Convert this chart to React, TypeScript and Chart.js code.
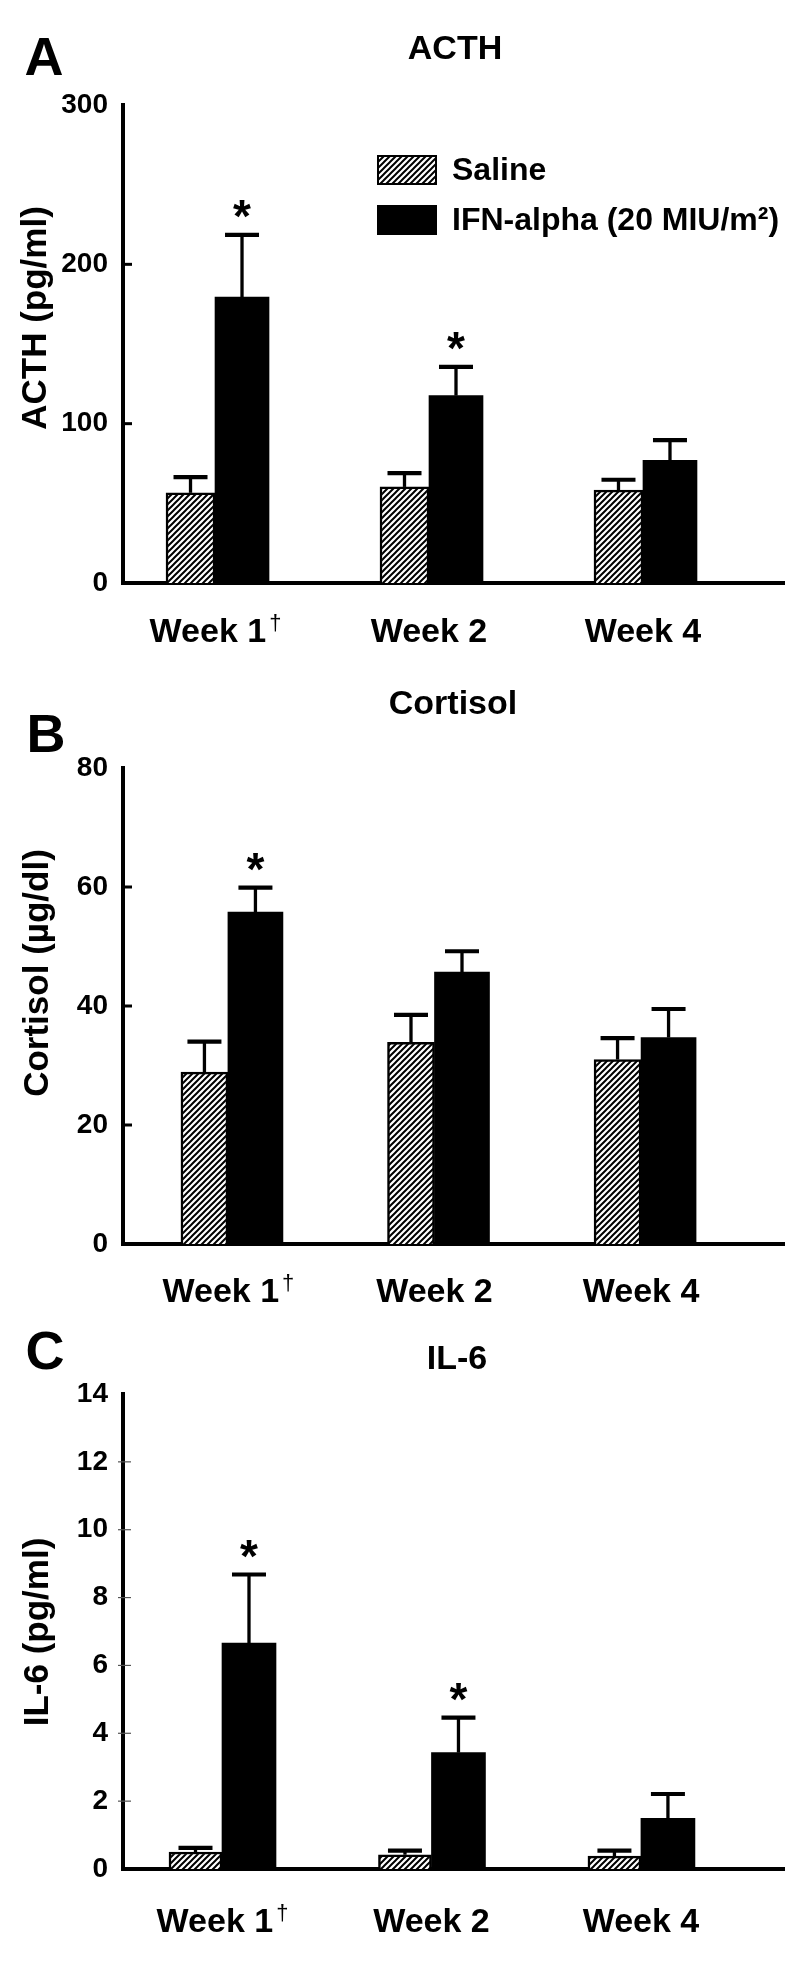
import { useEffect, useRef } from 'react';
import { Chart, registerables } from 'chart.js';

Chart.register(...registerables);

const weeks = ['Week 1', 'Week 2', 'Week 4'];
const weekMarks = ['†', '', ''];
const weekPos = [0, 1, 2];
const seriesNames = ['Saline', 'IFN-alpha (20 MIU/m²)'];

const acthSaline = [56.6, 60.3, 58.3];
const acthSalineErr = [9.9, 8.7, 6.5];
const acthIfn = [179.4, 117.6, 77.0];
const acthIfnErr = [39.1, 18.0, 12.7];
const acthSig = [true, true, false];
const acthTicks = [0, 100, 200, 300];

const cortSaline = [28.9, 33.9, 31.0];
const cortSalineErr = [5.1, 4.6, 3.6];
const cortIfn = [55.8, 45.7, 34.7];
const cortIfnErr = [4.1, 3.5, 4.8];
const cortSig = [true, false, false];
const cortTicks = [0, 20, 40, 60, 80];

const il6Saline = [0.5, 0.42, 0.38];
const il6SalineErr = [0.12, 0.12, 0.16];
const il6Ifn = [6.66, 3.43, 1.49];
const il6IfnErr = [2.02, 1.03, 0.72];
const il6Sig = [true, true, false];
const il6Ticks = [0, 2, 4, 6, 8, 10, 12, 14];

const FONT = "'Liberation Sans', Arial, Helvetica, sans-serif";

type Panel = {
  key: string;
  top: number;
  height: number;
  areaTop: number;
  areaBottom: number;
  xMin: number;
  xMax: number;
  salineWidth: number;
  ifnWidth: number;
  ticks: number[];
  saline: number[];
  salineErr: number[];
  ifn: number[];
  ifnErr: number[];
  sig: boolean[];
  letter: string;
  letterPos: [number, number];
  title: string;
  titlePos: [number, number];
  yTitle: string;
  yTitlePos: [number, number];
  legend: boolean;
  labelBaseline: number;
  thinTicks: boolean;
};

const panels: Panel[] = [
  {
    key: 'A', top: 0, height: 660, areaTop: 105, areaBottom: 583, xMin: -0.43, xMax: 2.659,
    salineWidth: 49, ifnWidth: 54,
    ticks: acthTicks, saline: acthSaline, salineErr: acthSalineErr, ifn: acthIfn, ifnErr: acthIfnErr, sig: acthSig,
    letter: 'A', letterPos: [44, 60], title: 'ACTH', titlePos: [455, 50],
    yTitle: 'ACTH (pg/ml)', yTitlePos: [36, 318], legend: true, labelBaseline: 642, thinTicks: false,
  },
  {
    key: 'B', top: 660, height: 660, areaTop: 108, areaBottom: 584, xMin: -0.508, xMax: 2.692,
    salineWidth: 47, ifnWidth: 55,
    ticks: cortTicks, saline: cortSaline, salineErr: cortSalineErr, ifn: cortIfn, ifnErr: cortIfnErr, sig: cortSig,
    letter: 'B', letterPos: [46, 77], title: 'Cortisol', titlePos: [453, 45],
    yTitle: 'Cortisol (µg/dl)', yTitlePos: [38, 313], legend: false, labelBaseline: 642, thinTicks: false,
  },
  {
    key: 'C', top: 1320, height: 650, areaTop: 74, areaBottom: 549, xMin: -0.4726, xMax: 2.683,
    salineWidth: 53, ifnWidth: 54,
    ticks: il6Ticks, saline: il6Saline, salineErr: il6SalineErr, ifn: il6Ifn, ifnErr: il6IfnErr, sig: il6Sig,
    letter: 'C', letterPos: [45, 34], title: 'IL-6', titlePos: [457, 40],
    yTitle: 'IL-6 (pg/ml)', yTitlePos: [38, 312], legend: false, labelBaseline: 612, thinTicks: true,
  },
];

function makeHatch(): CanvasPattern | string {
  const s = 6;
  const c = document.createElement('canvas');
  c.width = s;
  c.height = s;
  const g = c.getContext('2d');
  if (!g) return '#888';
  g.fillStyle = '#fff';
  g.fillRect(0, 0, s, s);
  g.strokeStyle = '#000';
  g.lineWidth = 2;
  g.beginPath();
  g.moveTo(-1, s + 1);
  g.lineTo(s + 1, -1);
  g.moveTo(-1, 1);
  g.lineTo(1, -1);
  g.moveTo(s - 1, s + 1);
  g.lineTo(s + 1, s - 1);
  g.stroke();
  const p = g.createPattern(c, 'repeat');
  return p || '#888';
}

const decorPlugin = {
  id: 'decor',
  afterDatasetsDraw(chart: any, _args: any, opts: any) {
    const ctx: CanvasRenderingContext2D = chart.ctx;
    const ys = chart.scales.y;
    ctx.save();
    ctx.strokeStyle = '#000';
    ctx.fillStyle = '#000';
    chart.data.datasets.forEach((ds: any, di: number) => {
      const meta = chart.getDatasetMeta(di);
      meta.data.forEach((el: any, i: number) => {
        const v = ds.data[i].y;
        const e = ds.errors[i];
        const yTop = ys.getPixelForValue(v + e);
        const x = el.x;
        ctx.lineWidth = 3.3;
        ctx.beginPath();
        ctx.moveTo(x, el.y);
        ctx.lineTo(x, yTop);
        ctx.stroke();
        ctx.lineWidth = 4.2;
        ctx.beginPath();
        ctx.moveTo(x - 17, yTop);
        ctx.lineTo(x + 17, yTop);
        ctx.stroke();
        if (di === 1 && opts.sig[i]) {
          ctx.font = `bold 46px ${FONT}`;
          ctx.textAlign = 'center';
          ctx.textBaseline = 'alphabetic';
          ctx.fillText('*', x, yTop - 3);
        }
      });
    });
    ctx.restore();
  },
  afterDraw(chart: any, _args: any, opts: any) {
    const ctx: CanvasRenderingContext2D = chart.ctx;
    const ys = chart.scales.y;
    const xs = chart.scales.x;
    const area = chart.chartArea;
    ctx.save();
    ctx.fillStyle = '#000';
    ctx.strokeStyle = '#000';
    // inward ticks on the value axis
    ys.ticks.forEach((t: any) => {
      if (t.value === ys.max || t.value === ys.min) return;
      const y = ys.getPixelForValue(t.value);
      if (opts.thinTicks) {
        ctx.strokeStyle = '#555';
        ctx.lineWidth = 1.2;
        ctx.beginPath();
        ctx.moveTo(area.left - 5, y);
        ctx.lineTo(area.left + 8, y);
        ctx.stroke();
      } else {
        ctx.strokeStyle = '#000';
        ctx.lineWidth = 3;
        ctx.beginPath();
        ctx.moveTo(area.left, y);
        ctx.lineTo(area.left + 9, y);
        ctx.stroke();
      }
    });
    // category labels with superscript marks
    weekPos.forEach((pos, i) => {
      const cx = xs.getPixelForValue(pos);
      ctx.font = `bold 34px ${FONT}`;
      const w = ctx.measureText(weeks[i]).width;
      let markW = 0;
      if (weekMarks[i]) {
        ctx.font = `22px ${FONT}`;
        markW = ctx.measureText(weekMarks[i]).width + 2;
      }
      const left = cx - (w + markW) / 2;
      ctx.font = `bold 34px ${FONT}`;
      ctx.textAlign = 'left';
      ctx.textBaseline = 'alphabetic';
      ctx.fillText(weeks[i], left, opts.labelBaseline);
      if (weekMarks[i]) {
        ctx.font = `22px ${FONT}`;
        ctx.fillText(weekMarks[i], left + w + 3, opts.labelBaseline - 12);
      }
    });
    // panel letter
    ctx.textAlign = 'center';
    ctx.textBaseline = 'middle';
    ctx.font = `bold 54px ${FONT}`;
    ctx.fillText(opts.letter, opts.letterPos[0], opts.letterPos[1]);
    // panel title
    ctx.font = `bold 34px ${FONT}`;
    ctx.fillText(opts.title, opts.titlePos[0], opts.titlePos[1]);
    // value-axis title
    ctx.save();
    ctx.translate(opts.yTitlePos[0], opts.yTitlePos[1]);
    ctx.rotate(-Math.PI / 2);
    ctx.font = `bold 35px ${FONT}`;
    ctx.fillText(opts.yTitle, 0, 0);
    ctx.restore();
    // legend
    if (opts.legend) {
      const ds = chart.data.datasets;
      const rows = [170, 220];
      ds.forEach((d: any, i: number) => {
        const cy = rows[i];
        ctx.fillStyle = d.backgroundColor;
        ctx.fillRect(377, cy - 15, 60, 30);
        ctx.strokeStyle = '#000';
        ctx.lineWidth = 2;
        ctx.strokeRect(378, cy - 14, 58, 28);
        ctx.fillStyle = '#000';
        ctx.textAlign = 'left';
        ctx.textBaseline = 'middle';
        ctx.font = `bold 32px ${FONT}`;
        ctx.fillText(d.label, 452, cy + 1);
      });
    }
    ctx.restore();
  },
};

function PanelChart({ p }: { p: Panel }) {
  const ref = useRef<HTMLCanvasElement | null>(null);
  useEffect(() => {
    if (!ref.current) return;
    const hatch = makeHatch();
    const chart = new Chart(ref.current, {
      type: 'bar',
      data: {
        datasets: [
          {
            label: seriesNames[0],
            data: weekPos.map((x, i) => ({ x, y: p.saline[i] })),
            errors: p.salineErr,
            backgroundColor: hatch,
            borderColor: '#000',
            borderWidth: 2.5,
            barThickness: p.salineWidth,
          } as any,
          {
            label: seriesNames[1],
            data: weekPos.map((x, i) => ({ x, y: p.ifn[i] })),
            errors: p.ifnErr,
            backgroundColor: '#000',
            borderColor: '#000',
            borderWidth: 0,
            barThickness: p.ifnWidth,
          } as any,
        ],
      },
      options: {
        animation: false,
        responsive: false,
        maintainAspectRatio: false,
        events: [],
        layout: { padding: { left: 0, right: 16, top: p.areaTop, bottom: 0 } },
        plugins: {
          legend: { display: false },
          title: { display: false },
          tooltip: { enabled: false },
          decor: {
            sig: p.sig, letter: p.letter, letterPos: p.letterPos, title: p.title, titlePos: p.titlePos,
            yTitle: p.yTitle, yTitlePos: p.yTitlePos, legend: p.legend, thinTicks: p.thinTicks,
            labelBaseline: p.labelBaseline,
          },
        } as any,
        scales: {
          x: {
            type: 'linear',
            offset: false,
            min: p.xMin,
            max: p.xMax,
            grid: { display: false, drawTicks: false },
            border: { display: true, color: '#000', width: 4 },
            afterBuildTicks: (s: any) => { s.ticks = weekPos.map((v) => ({ value: v })); },
            afterFit: (s: any) => { s.height = p.height - p.areaBottom; },
            ticks: { display: false },
          },
          y: {
            type: 'linear',
            min: p.ticks[0],
            max: p.ticks[p.ticks.length - 1],
            grid: { display: false, drawTicks: false },
            border: { display: true, color: '#000', width: 4 },
            afterBuildTicks: (s: any) => { s.ticks = p.ticks.map((v) => ({ value: v })); },
            afterFit: (s: any) => { s.width = 123; },
            ticks: {
              padding: 15,
              color: '#000',
              font: { family: FONT, size: 28, weight: 'bold' },
            },
          },
        },
      } as any,
      plugins: [decorPlugin as any],
    });
    return () => chart.destroy();
  }, [p]);
  return (
    <canvas
      ref={ref}
      width={800}
      height={p.height}
      style={{ position: 'absolute', left: 0, top: p.top, width: 800, height: p.height }}
    />
  );
}

export default function App() {
  return (
    <div style={{ position: 'absolute', left: 0, top: 0, width: 800, height: 1970, background: '#fff' }}>
      {panels.map((p) => (
        <PanelChart key={p.key} p={p} />
      ))}
    </div>
  );
}
